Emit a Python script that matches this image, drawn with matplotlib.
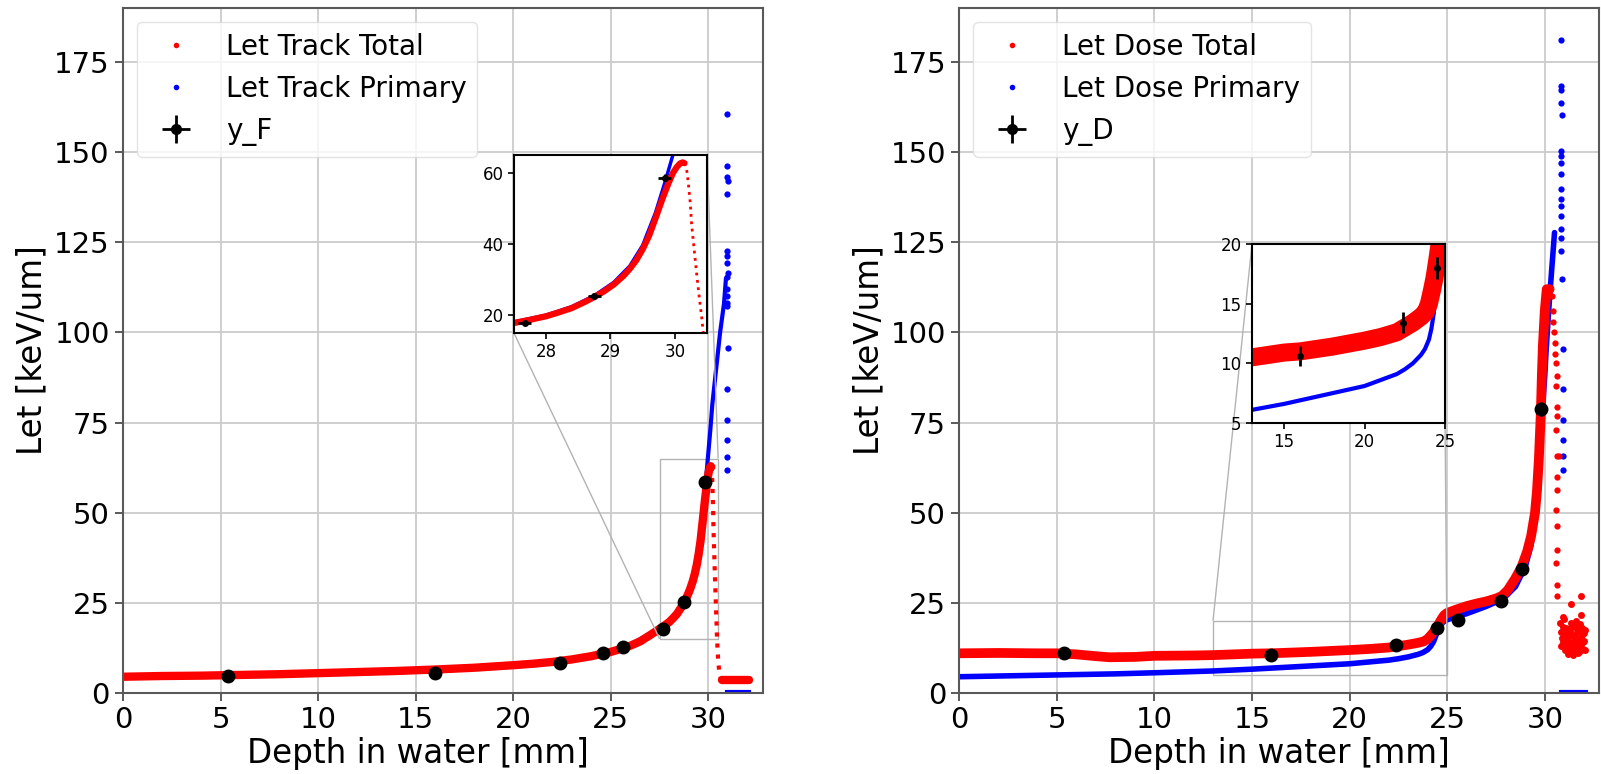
import matplotlib
matplotlib.use('Agg')
import matplotlib.pyplot as plt
from matplotlib.lines import Line2D
from mpl_toolkits.axes_grid1.inset_locator import mark_inset

# ---------- left panel: track averaged LET ----------
track_x = [0, 2, 4, 6, 8, 10, 12, 14, 16, 18, 20, 21, 22, 23, 24, 25, 25.5, 26, 26.5,
           27, 27.5, 27.75, 28, 28.2, 28.4, 28.6, 28.75, 28.9, 29.05, 29.2, 29.3, 29.4,
           29.5, 29.6, 29.7, 29.8, 29.9, 29.97, 30.03, 30.08, 30.12, 30.15]
track_total = [4.5, 4.7, 4.8, 5.0, 5.2, 5.5, 5.8, 6.1, 6.5, 7.0, 7.7, 8.1, 8.6, 9.3, 10.2,
               11.4, 12.2, 13.1, 14.3, 16.0, 17.8, 18.7, 19.7, 20.8, 22.0, 23.7, 25.1,
               26.7, 28.6, 31.0, 33.0, 35.4, 38.5, 42.3, 47.2, 52.3, 57.0, 59.9, 61.6,
               62.6, 62.9, 62.7]
track_drop_x = [30.15, 30.18, 30.21, 30.24, 30.26, 30.3, 30.34, 30.38, 30.42, 30.44, 30.47,
                30.5, 30.55, 30.6, 30.65, 30.7]
track_drop_y = [62.7, 61.5, 57.0, 51.5, 45.7, 38.5, 31.5, 25.0, 19.0, 15.5, 12.0, 9.2, 6.2,
                4.7, 3.9, 3.6]
track_tail_x = [30.7, 32.1]
track_tail_y = [3.6, 3.6]

prim_x = [0, 2, 4, 6, 8, 10, 12, 14, 16, 18, 20, 22, 24, 25, 26, 27, 27.5, 28, 28.4,
          28.75, 29.05, 29.3, 29.5, 29.7, 29.85, 29.97, 30.1, 30.2, 30.4, 30.6, 30.8, 30.9]
prim_y = [4.7, 4.9, 5.0, 5.2, 5.4, 5.7, 6.0, 6.3, 6.7, 7.2, 7.9, 8.8, 10.4, 11.6, 13.4,
          16.4, 18.1, 20.0, 22.4, 25.5, 29.2, 33.8, 39.6, 48.8, 57.5, 65.0, 73.0, 80.0,
          90.0, 100.0, 108.0, 115.0]
prim_spike_x = [30.97, 30.96, 30.97, 30.98, 30.97, 30.95, 30.96, 30.97, 30.98, 30.96,
                30.97, 30.95, 30.96, 30.97, 30.98, 30.97, 30.95, 30.95, 30.95, 30.95]
prim_spike_y = [160.6, 146.2, 143.2, 142.0, 138.3, 122.6, 121.2, 119.4, 116.6, 115.4,
                112.0, 110.0, 108.3, 107.3, 95.8, 84.2, 75.8, 70.1, 65.5, 61.8]
prim_zero_x = [30.95, 32.1]
prim_zero_y = [0.3, 0.3]

yF_x = [5.37, 15.98, 22.4, 24.58, 25.6, 27.67, 28.75, 29.84]
yF_y = [4.7, 5.4, 8.2, 11.2, 12.8, 17.8, 25.3, 58.6]
yF_xerr = [0.1, 0.1, 0.1, 0.1, 0.1, 0.1, 0.1, 0.1]
yF_yerr = [0.3, 0.3, 0.4, 0.4, 0.5, 0.5, 0.6, 1.0]

# ---------- right panel: dose averaged LET ----------
dose_x = [0, 2, 4, 5, 6, 7, 7.7, 9, 10, 12, 13, 14, 15, 16, 18, 20, 21, 22, 22.5, 23,
          23.5, 23.8, 24.0, 24.2, 24.35, 24.5, 24.7, 24.85, 25, 25.5, 26, 26.5, 27, 27.5,
          27.8, 28.1, 28.45, 28.8, 29.1, 29.3, 29.5, 29.6, 29.7, 29.8, 29.85, 29.9, 30.0,
          30.1, 30.25]
dose_total = [11.0, 11.1, 11.0, 11.0, 10.7, 10.2, 9.9, 10.0, 10.3, 10.4, 10.5, 10.7, 10.9,
              11.0, 11.4, 11.9, 12.2, 12.6, 13.0, 13.4, 13.9, 14.3, 15.0, 16.2, 17.2, 18.5,
              20.4, 21.6, 22.2, 23.2, 24.1, 24.8, 25.4, 26.2, 26.9, 28.5, 31.4, 34.8, 39.3,
              43.5, 50.0, 56.0, 65.0, 78.0, 88.0, 96.0, 106.0, 112.0, 112.0]
dose_drop_x = [30.35, 30.4, 30.42, 30.45, 30.5, 30.55, 30.6, 30.61, 30.6, 30.62, 30.61,
               30.6, 30.62, 30.75, 30.61, 30.62, 30.6, 30.61, 30.62, 30.6, 30.61, 30.62]
dose_drop_y = [110.0, 106.0, 103.0, 100.0, 97.0, 94.0, 91.6, 88.0, 85.1, 79.4, 76.8,
               73.0, 65.6, 65.6, 60.0, 56.4, 50.8, 46.2, 39.7, 36.0, 30.0, 26.8]
dose_cloud_x = [30.92, 31.35, 31.87, 30.8, 30.85, 30.9, 30.95, 31.0, 31.05, 31.1, 31.15,
                31.2, 31.25, 31.3, 31.35, 31.4, 31.45, 31.5, 31.55, 31.6, 31.65, 31.7,
                31.75, 31.8, 31.85, 31.9, 31.95, 32.0, 32.05, 30.85, 30.95, 31.05, 31.15,
                31.25, 31.35, 31.45, 31.55, 31.65, 31.75, 31.85, 31.95, 32.05, 31.0,
                31.2, 31.4, 31.6, 31.8, 32.0, 31.1, 31.3, 31.5, 31.7, 31.9]
dose_cloud_y = [21.2, 24.6, 26.9, 19.5, 17.0, 15.2, 14.0, 16.5, 13.2, 18.0, 12.0, 15.5,
                11.5, 17.2, 13.8, 16.0, 12.5, 14.8, 18.2, 13.0, 16.8, 11.0, 15.0, 19.0,
                13.5, 16.2, 12.2, 14.5, 17.5, 13.0, 18.4, 11.8, 16.0, 14.2, 19.5, 10.5,
                15.8, 12.8, 17.8, 21.5, 14.0, 12.0, 20.5, 10.8, 18.6, 20.0, 11.6, 16.6,
                14.6, 12.6, 11.2, 14.4, 18.0]

dprim_x = [0, 2, 5, 8, 10, 13, 15, 17, 20, 21, 22, 22.5, 23, 23.5, 23.75, 24.0, 24.15,
           24.3, 24.45, 24.6, 24.8, 25, 25.5, 26, 26.5, 27, 27.5, 28, 28.5, 29, 29.3, 29.6,
           29.8, 30.0, 30.07, 30.2, 30.35, 30.5]
dprim_y = [4.5, 4.7, 5.0, 5.3, 5.6, 6.1, 6.6, 7.2, 8.1, 8.6, 9.1, 9.5, 10.0, 10.7, 11.2,
           12.0, 12.9, 14.2, 16.3, 18.3, 19.7, 20.3, 21.2, 22.0, 23.0, 24.0, 25.2, 26.8,
           29.5, 35.0, 41.0, 55.0, 72.0, 88.0, 95.0, 106.0, 117.0, 127.7]
dprim_spike_x = [30.85, 30.83, 30.84, 30.82, 30.86, 30.82, 30.83, 30.84, 30.82, 30.83,
                 30.81, 30.84, 30.82, 30.83, 30.82, 30.84, 30.88, 30.92, 30.92, 30.92,
                 30.92, 30.92, 30.92]
dprim_spike_y = [181.0, 168.3, 167.3, 163.6, 160.3, 150.4, 149.0, 147.1, 143.9, 139.7,
                 136.9, 135.1, 132.3, 128.6, 126.3, 122.6, 114.7, 95.3, 84.2, 75.8, 70.3,
                 65.6, 61.8]
dprim_zero_x = [30.85, 32.1]
dprim_zero_y = [0.4, 0.4]

yD_x = [5.34, 15.98, 22.37, 24.5, 25.53, 27.76, 28.82, 29.81]
yD_y = [11.0, 10.6, 13.4, 18.0, 20.3, 25.6, 34.4, 78.8]
yD_xerr = [0.05, 0.05, 0.05, 0.05, 0.05, 0.05, 0.05, 0.05]
yD_yerr = [0.8, 0.85, 0.9, 0.9, 1.0, 1.0, 1.2, 2.0]

plt.rcParams['font.family'] = 'DejaVu Sans'
fig = plt.figure(figsize=(16.01, 7.74), dpi=100)
ax1 = fig.add_axes([0.0768, 0.1047, 0.3998, 0.885])
ax2 = fig.add_axes([0.5992, 0.1047, 0.3998, 0.885])
ins1 = fig.add_axes([0.321, 0.5698, 0.1206, 0.230])
ins2 = fig.add_axes([0.782, 0.4535, 0.1206, 0.2313])


def style_main(ax):
    ax.set_xlim(0, 32.8)
    ax.set_ylim(0, 190)
    ax.set_xticks(range(0, 31, 5))
    ax.set_yticks(range(0, 176, 25))
    ax.grid(True, color='#cccccc', lw=1.3)
    ax.set_axisbelow(True)
    ax.tick_params(labelsize=21, length=6, width=1.3, color='0.3')
    for s in ax.spines.values():
        s.set_color('0.35')
        s.set_linewidth(1.5)
    ax.set_xlabel('Depth in water [mm]', fontsize=23.5, labelpad=2)
    ax.set_ylabel('Let [keV/um]', fontsize=23.5, labelpad=4)


def style_inset(ax):
    ax.tick_params(labelsize=12, length=4, width=1.2)
    for s in ax.spines.values():
        s.set_color('black')
        s.set_linewidth(1.5)


# left panel
for a, big in ((ax1, True), (ins1, False)):
    a.plot(prim_x, prim_y, color='blue', lw=3 if big else 2.5, solid_capstyle='round')
    a.plot(prim_spike_x, prim_spike_y, 'o', color='blue', ms=4.5, mec='none')
    a.plot(prim_zero_x, prim_zero_y, color='blue', lw=3)
    a.plot(track_x, track_total, color='red', lw=6 if big else 4.5, solid_capstyle='round')
    a.plot(track_drop_x, track_drop_y, ':', color='red', lw=3 if big else 2)
    a.plot(track_tail_x, track_tail_y, color='red', lw=6, solid_capstyle='round')
    a.errorbar(yF_x, yF_y, xerr=yF_xerr, yerr=yF_yerr, fmt='o', color='black',
               ms=9 if big else 4, elinewidth=2, capsize=0, zorder=5)

style_main(ax1)
ax1.xaxis.set_label_coords(0.46, -0.065)
ins1.set_xlim(27.5, 30.5)
ins1.set_ylim(15, 65)
ins1.set_xticks([28, 29, 30])
ins1.set_yticks([20, 40, 60])
style_inset(ins1)
mark_inset(ax1, ins1, loc1=1, loc2=3, fc='none', ec='0.7', lw=1)

# right panel
for a, big in ((ax2, True), (ins2, False)):
    a.plot(dprim_x, dprim_y, color='blue', lw=4 if big else 3, solid_capstyle='round')
    a.plot(dprim_spike_x, dprim_spike_y, 'o', color='blue', ms=4.5, mec='none')
    a.plot(dprim_zero_x, dprim_zero_y, color='blue', lw=3)
    a.plot(dose_x, dose_total, color='red', lw=7 if big else 13, solid_capstyle='round')
    a.plot(dose_drop_x, dose_drop_y, 'o', color='red', ms=4.5, mec='none')
    a.plot(dose_cloud_x, dose_cloud_y, 'o', color='red', ms=5, mec='none')
    a.errorbar(yD_x, yD_y, xerr=yD_xerr, yerr=yD_yerr, fmt='o', color='black',
               ms=9 if big else 4, elinewidth=2, capsize=0, zorder=5)

style_main(ax2)
ax2.xaxis.set_label_coords(0.5, -0.065)
ins2.set_xlim(13, 25)
ins2.set_ylim(5, 20)
ins2.set_xticks([15, 20, 25])
ins2.set_yticks([5, 10, 15, 20])
style_inset(ins2)
mark_inset(ax2, ins2, loc1=2, loc2=4, fc='none', ec='0.7', lw=1)

# legends
for a, names in ((ax1, ('Let Track Total', 'Let Track Primary', 'y_F')),
                 (ax2, ('Let Dose Total', 'Let Dose Primary', 'y_D'))):
    h_red = Line2D([], [], marker='o', ls='none', color='red', ms=4, mec='none')
    h_blue = Line2D([], [], marker='o', ls='none', color='blue', ms=4, mec='none')
    h_err = a.errorbar([], [], xerr=[], yerr=[], fmt='o', color='black', ms=7,
                       elinewidth=2, capsize=0)
    a.legend([h_red, h_blue, h_err], names, loc='upper left', fontsize=20,
             framealpha=0.8, edgecolor='#dddddd')

fig.savefig('out.png', dpi=100)
